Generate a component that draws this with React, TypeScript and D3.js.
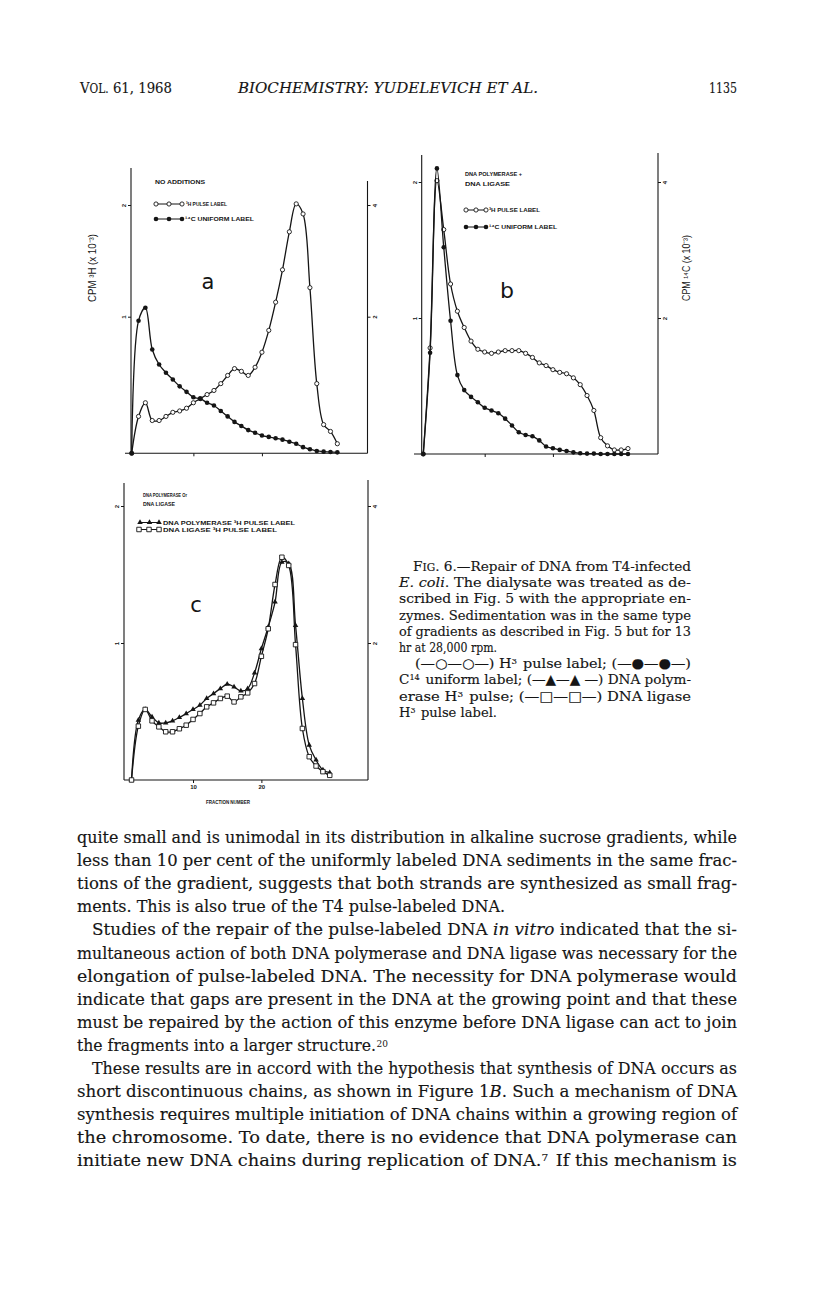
import React, { useRef, useEffect } from 'react';
import * as d3 from 'd3';

// fraction numbers along the gradient
const fractionsAB = [1, 2, 3, 4, 5, 6, 7, 8, 9, 10, 11, 12, 13, 14, 15, 16, 17, 18, 19, 20, 21, 22, 23, 24, 25, 26, 27, 28, 29, 30, 31];
const fractionsC = [1, 2, 3, 4, 5, 6, 7, 8, 9, 10, 11, 12, 13, 14, 15, 16, 17, 18, 19, 20, 21, 22, 23, 24, 25, 26, 27, 28, 29, 30];

// panel a: no additions. 3H on the left axis, 14C on the right axis (x10^-3)
const pulseA = [0, 0.27, 0.37, 0.24, 0.24, 0.27, 0.3, 0.31, 0.33, 0.37, 0.4, 0.43, 0.46, 0.51, 0.57, 0.62, 0.6, 0.57, 0.63, 0.74, 0.9, 1.13, 1.42, 1.76, 2.01, 1.92, 1.26, 0.51, 0.21, 0.16, 0.07];
const uniformA = [0, 1.94, 2.16, 1.52, 1.3, 1.18, 1.08, 0.98, 0.9, 0.82, 0.8, 0.74, 0.7, 0.62, 0.54, 0.46, 0.4, 0.34, 0.3, 0.26, 0.24, 0.22, 0.2, 0.17, 0.14, 0.09, 0.06, 0.034, 0.024, 0.02, 0.014];

// panel b: DNA polymerase + DNA ligase
const pulseB = [0, 0.78, 2.01, 1.65, 1.25, 1.05, 0.93, 0.83, 0.77, 0.75, 0.74, 0.75, 0.76, 0.76, 0.76, 0.74, 0.71, 0.67, 0.65, 0.62, 0.6, 0.59, 0.56, 0.51, 0.43, 0.32, 0.12, 0.06, 0.03, 0.03, 0.04];
const uniformB = [0, 1.49, 4.2, 3.04, 1.96, 1.16, 0.94, 0.84, 0.76, 0.68, 0.64, 0.6, 0.52, 0.42, 0.32, 0.28, 0.26, 0.2, 0.11, 0.084, 0.06, 0.044, 0.024, 0.01, 0.006, 0.006, 0, 0, 0, 0, 0];

// panel c: DNA polymerase or DNA ligase (3H pulse label)
const polymeraseC = [0, 0.437, 0.515, 0.461, 0.417, 0.417, 0.432, 0.456, 0.485, 0.515, 0.546, 0.595, 0.631, 0.667, 0.699, 0.68, 0.65, 0.667, 0.782, 0.959, 1.117, 1.299, 1.59, 1.58, 1.129, 0.595, 0.255, 0.146, 0.073, 0.053];
const ligaseC = [0, 0.393, 0.515, 0.432, 0.388, 0.352, 0.352, 0.374, 0.4, 0.442, 0.485, 0.534, 0.563, 0.595, 0.612, 0.57, 0.607, 0.636, 0.704, 0.903, 1.104, 1.427, 1.626, 1.566, 0.988, 0.376, 0.17, 0.102, 0.061, 0.034];

const leftTicks = [1, 2];
const rightTicks = [2, 4];
const fractionTicks = [10, 20];
const fractionTickLabels = ['10', '20'];

const INK = '#151515';
const SANS = 'Liberation Sans, Arial, sans-serif';
const SERIF = 'DejaVu Serif, serif';

const panelA = {
  xDomain: [0.9, 35.4], xRange: [131, 367.5],
  leftDomain: [0, 1, 2], rightDomain: [0, 2, 4], yRange: [453.3, 316.7, 205],
  leftTop: 168, rightTop: 181, baseLeft: 125, xLabels: false,
};
const panelB = {
  xDomain: [0.77, 35.4], xRange: [421.7, 658],
  leftDomain: [0, 1, 2], rightDomain: [0, 2, 4], yRange: [454, 318, 182],
  leftTop: 155, rightTop: 153, baseLeft: 414, xLabels: false,
};
const panelC = {
  xDomain: [-0.1, 35.6], xRange: [124, 368],
  leftDomain: [0, 1, 2], rightDomain: [0, 2, 4], yRange: [780, 643, 506],
  leftTop: 483, rightTop: 480, baseLeft: 124, xLabels: true,
};

function styleTicks(axisG, dx) {
  axisG.select('.domain').remove();
  axisG.attr('font-family', SANS).attr('font-size', 6).attr('font-weight', 'bold');
  axisG.selectAll('line').attr('stroke', INK).attr('stroke-width', 1);
  axisG.selectAll('text')
    .attr('fill', INK)
    .attr('x', 0)
    .attr('dy', null)
    .attr('text-anchor', 'middle')
    .attr('dominant-baseline', 'central')
    .attr('transform', `translate(${dx},0) rotate(-90)`);
}

function drawMarker(g, cx, cy, kind) {
  if (kind === 'open') {
    g.append('circle').attr('cx', cx).attr('cy', cy).attr('r', 2.1)
      .attr('fill', '#fff').attr('stroke', INK).attr('stroke-width', 0.9);
  } else if (kind === 'filled') {
    g.append('circle').attr('cx', cx).attr('cy', cy).attr('r', 2.3).attr('fill', INK);
  } else if (kind === 'triangle') {
    g.append('path').attr('d', d3.symbol().type(d3.symbolTriangle).size(13)())
      .attr('transform', `translate(${cx},${cy})`).attr('fill', INK);
  } else {
    g.append('path').attr('d', d3.symbol().type(d3.symbolSquare).size(20)())
      .attr('transform', `translate(${cx},${cy})`)
      .attr('fill', '#fff').attr('stroke', INK).attr('stroke-width', 0.9);
  }
}

function drawPanel(g, p, fractions, series) {
  const x = d3.scaleLinear().domain(p.xDomain).range(p.xRange);
  const yL = d3.scaleLinear().domain(p.leftDomain).range(p.yRange);
  const yR = d3.scaleLinear().domain(p.rightDomain).range(p.yRange);
  const [xl, xr] = p.xRange;
  const yb = p.yRange[0];

  const frame = g.append('g').attr('stroke', INK).attr('stroke-width', 1.1);
  frame.append('line').attr('x1', xl).attr('x2', xl).attr('y1', p.leftTop).attr('y2', yb);
  frame.append('line').attr('x1', xr).attr('x2', xr).attr('y1', p.rightTop).attr('y2', yb);
  frame.append('line').attr('x1', p.baseLeft).attr('x2', xr).attr('y1', yb).attr('y2', yb);

  const la = g.append('g').attr('transform', `translate(${xl},0)`)
    .call(d3.axisLeft(yL).tickValues(leftTicks).tickSize(3).tickFormat(d3.format('d')));
  styleTicks(la, -7);
  const ra = g.append('g').attr('transform', `translate(${xr},0)`)
    .call(d3.axisRight(yR).tickValues(rightTicks).tickSize(3).tickFormat(d3.format('d')));
  styleTicks(ra, 7);

  const ba = g.append('g').attr('transform', `translate(0,${yb})`)
    .call(d3.axisBottom(x).tickValues(fractionTicks).tickSize(3).tickPadding(2)
      .tickFormat((d, i) => (p.xLabels ? fractionTickLabels[i] : '')));
  ba.select('.domain').remove();
  ba.attr('font-family', SANS).attr('font-size', 6).attr('font-weight', 'bold');
  ba.selectAll('line').attr('stroke', INK);
  ba.selectAll('text').attr('fill', INK);

  series.forEach((s) => {
    const y = s.axis === 'left' ? yL : yR;
    const pts = fractions.map((f, i) => [x(f), y(s.values[i])]);
    g.append('path')
      .attr('d', d3.line().curve(d3.curveCatmullRom.alpha(0.5))(pts))
      .attr('fill', 'none').attr('stroke', INK).attr('stroke-width', 1.3);
    const mg = g.append('g');
    pts.forEach(([cx, cy]) => drawMarker(mg, cx, cy, s.marker));
  });
}

function legendRow(g, x1, x2, y, kind, text, textX, textLen) {
  g.append('line').attr('x1', x1).attr('x2', x2).attr('y1', y).attr('y2', y)
    .attr('stroke', INK).attr('stroke-width', 1);
  [x1, (x1 + x2) / 2, x2].forEach((cx) => drawMarker(g, cx, y, kind));
  g.append('text').attr('x', textX).attr('y', y + 2.2).text(text)
    .attr('textLength', textLen).attr('lengthAdjust', 'spacingAndGlyphs');
}

function smallText(g, x, y, text, len) {
  g.append('text').attr('x', x).attr('y', y).text(text)
    .attr('textLength', len).attr('lengthAdjust', 'spacingAndGlyphs');
}

function Line({ x, y, w, size, children }: any) {
  return (
    <text x={x} y={y} textLength={w} lengthAdjust="spacingAndGlyphs" fontSize={size}
      fontFamily={SERIF} fill={INK} stroke={INK} strokeWidth={0.15}>
      {children}
    </text>
  );
}

// raised figure; `back` returns to the baseline for any text that follows
const Sup = ({ children, lift = 4.5, back = false }: any) => (
  <>
    <tspan dy={-lift} fontSize="60%">{children}</tspan>
    {back ? <tspan dy={lift}>{'\u200a'}</tspan> : null}
  </>
);
const It = ({ children }: any) => <tspan fontStyle="italic">{children}</tspan>;

export default function App() {
  const gRef = useRef(null);

  useEffect(() => {
    const root = d3.select(gRef.current);
    root.selectAll('*').remove();

    drawPanel(root.append('g'), panelA, fractionsAB, [
      { values: pulseA, axis: 'left', marker: 'open' },
      { values: uniformA, axis: 'right', marker: 'filled' },
    ]);
    drawPanel(root.append('g'), panelB, fractionsAB, [
      { values: pulseB, axis: 'left', marker: 'open' },
      { values: uniformB, axis: 'right', marker: 'filled' },
    ]);
    drawPanel(root.append('g'), panelC, fractionsC, [
      { values: polymeraseC, axis: 'left', marker: 'triangle' },
      { values: ligaseC, axis: 'left', marker: 'square' },
    ]);

    // legends
    const lg = root.append('g').attr('font-family', SANS).attr('font-size', 5.8)
      .attr('font-weight', 'bold').attr('fill', INK);
    smallText(lg, 155, 184, 'NO ADDITIONS', 50);
    legendRow(lg, 156, 182, 204, 'open', '³H PULSE LABEL', 186, 41);
    legendRow(lg, 156, 182, 219, 'filled', '¹⁴C UNIFORM LABEL', 185, 69);

    smallText(lg, 465, 176, 'DNA POLYMERASE +', 57);
    smallText(lg, 465, 186, 'DNA LIGASE', 45);
    legendRow(lg, 466, 486, 210, 'open', '³H PULSE LABEL', 489, 51);
    legendRow(lg, 466, 486, 227, 'filled', '¹⁴C UNIFORM LABEL', 489, 68);

    smallText(lg, 143, 497, 'DNA POLYMERASE Or', 44);
    smallText(lg, 143, 506, 'DNA LIGASE', 32);
    legendRow(lg, 140, 159, 522.5, 'triangle', 'DNA POLYMERASE ³H PULSE LABEL', 163, 132);
    legendRow(lg, 139, 159, 529.5, 'square', 'DNA LIGASE ³H PULSE LABEL', 163, 114);

    smallText(lg, 206, 804, 'FRACTION NUMBER', 44);

    // panel letters
    const pl = root.append('g').attr('font-family', 'DejaVu Sans, sans-serif').attr('fill', INK)
      .attr('text-anchor', 'middle');
    pl.append('text').attr('x', 208).attr('y', 289).attr('font-size', 21).text('a');
    pl.append('text').attr('x', 507).attr('y', 298).attr('font-size', 22).text('b');
    pl.append('text').attr('x', 196).attr('y', 612).attr('font-size', 21).text('c');

    // axis titles
    const at = root.append('g').attr('font-family', SANS).attr('font-size', 10).attr('fill', INK)
      .attr('text-anchor', 'middle');
    at.append('text').attr('transform', 'translate(96,268) rotate(-90)')
      .attr('textLength', 68).attr('lengthAdjust', 'spacingAndGlyphs').text('CPM ³H (x 10⁻³)');
    at.append('text').attr('transform', 'translate(690,268) rotate(-90)')
      .attr('textLength', 66).attr('lengthAdjust', 'spacingAndGlyphs').text('CPM ¹⁴C (x 10⁻³)');
  }, []);

  const by = (i: number) => 843 + i * 23.1;
  const cy = (i: number) => 571 + i * 16.2;
  const bs = 16.5;
  const cs = 13.6;

  return (
    <svg width={816} height={1304} style={{ position: 'absolute', left: 0, top: 0, background: '#fff' }}>
      <rect width={816} height={1304} fill="#fff" />

      {/* running head */}
      <Line x={80} y={93} w={92} size={15}>V<tspan fontSize="80%">OL.</tspan> 61, 1968</Line>
      <Line x={238} y={93} w={300} size={15}><It>BIOCHEMISTRY: YUDELEVICH ET AL.</It></Line>
      <Line x={709} y={93} w={28} size={15}>1135</Line>

      <g ref={gRef} />

      {/* figure legend */}
      <Line x={413} y={cy(0)} w={278} size={cs}>F<tspan fontSize="78%">IG</tspan>. 6.—Repair of DNA from T4-infected</Line>
      <Line x={399} y={cy(1)} w={292} size={cs}><It>E. coli</It>.  The dialysate was treated as de-</Line>
      <Line x={399} y={cy(2)} w={292} size={cs}>scribed in Fig. 5 with the appropriate en-</Line>
      <Line x={399} y={cy(3)} w={292} size={cs}>zymes.  Sedimentation was in the same type</Line>
      <Line x={399} y={cy(4)} w={292} size={cs}>of gradients as described in Fig. 5 but for 13</Line>
      <Line x={399} y={cy(5)} w={98} size={cs}>hr at 28,000 rpm.</Line>
      <Line x={415} y={cy(6)} w={276} size={cs}>(—○—○—) H<Sup lift={4} back>3</Sup> pulse label;  (—●—●—)</Line>
      <Line x={399} y={cy(7)} w={292} size={cs}>C<Sup lift={4} back>14</Sup> uniform label;  (—▲—▲ —) DNA polym-</Line>
      <Line x={399} y={cy(8)} w={292} size={cs}>erase H<Sup lift={4} back>3</Sup> pulse;  (—□—□—) DNA ligase</Line>
      <Line x={399} y={cy(9)} w={98} size={cs}>H<Sup lift={4} back>3</Sup> pulse label.</Line>

      {/* body text */}
      <Line x={77} y={by(0)} w={660} size={bs}>quite small and is unimodal in its distribution in alkaline sucrose gradients, while</Line>
      <Line x={77} y={by(1)} w={660} size={bs}>less than 10 per cent of the uniformly labeled DNA sediments in the same frac-</Line>
      <Line x={77} y={by(2)} w={660} size={bs}>tions of the gradient, suggests that both strands are synthesized as small frag-</Line>
      <Line x={77} y={by(3)} w={428} size={bs}>ments.  This is also true of the T4 pulse-labeled DNA.</Line>
      <Line x={92} y={by(4)} w={645} size={bs}>Studies of the repair of the pulse-labeled DNA <It>in vitro</It> indicated that the si-</Line>
      <Line x={77} y={by(5)} w={660} size={bs}>multaneous action of both DNA polymerase and DNA ligase was necessary for the</Line>
      <Line x={77} y={by(6)} w={660} size={bs}>elongation of pulse-labeled DNA.  The necessity for DNA polymerase would</Line>
      <Line x={77} y={by(7)} w={660} size={bs}>indicate that gaps are present in the DNA at the growing point and that these</Line>
      <Line x={77} y={by(8)} w={660} size={bs}>must be repaired by the action of this enzyme before DNA ligase can act to join</Line>
      <Line x={77} y={by(9)} w={299} size={bs}>the fragments into a larger structure.</Line>
      <text x={376.5} y={by(9) - 3.5} fontSize={9} fontFamily={SERIF} fill={INK}>20</text>
      <Line x={92} y={by(10)} w={645} size={bs}>These results are in accord with the hypothesis that synthesis of DNA occurs as</Line>
      <Line x={77} y={by(11)} w={660} size={bs}>short discontinuous chains, as shown in Figure 1<It>B</It>.  Such a mechanism of DNA</Line>
      <Line x={77} y={by(12)} w={660} size={bs}>synthesis requires multiple initiation of DNA chains within a growing region of</Line>
      <Line x={77} y={by(13)} w={660} size={bs}>the chromosome.  To date, there is no evidence that DNA polymerase can</Line>
      <Line x={77} y={by(14)} w={660} size={bs}>initiate new DNA chains during replication of DNA.<Sup lift={5} back>7</Sup>  If this mechanism is</Line>
    </svg>
  );
}
